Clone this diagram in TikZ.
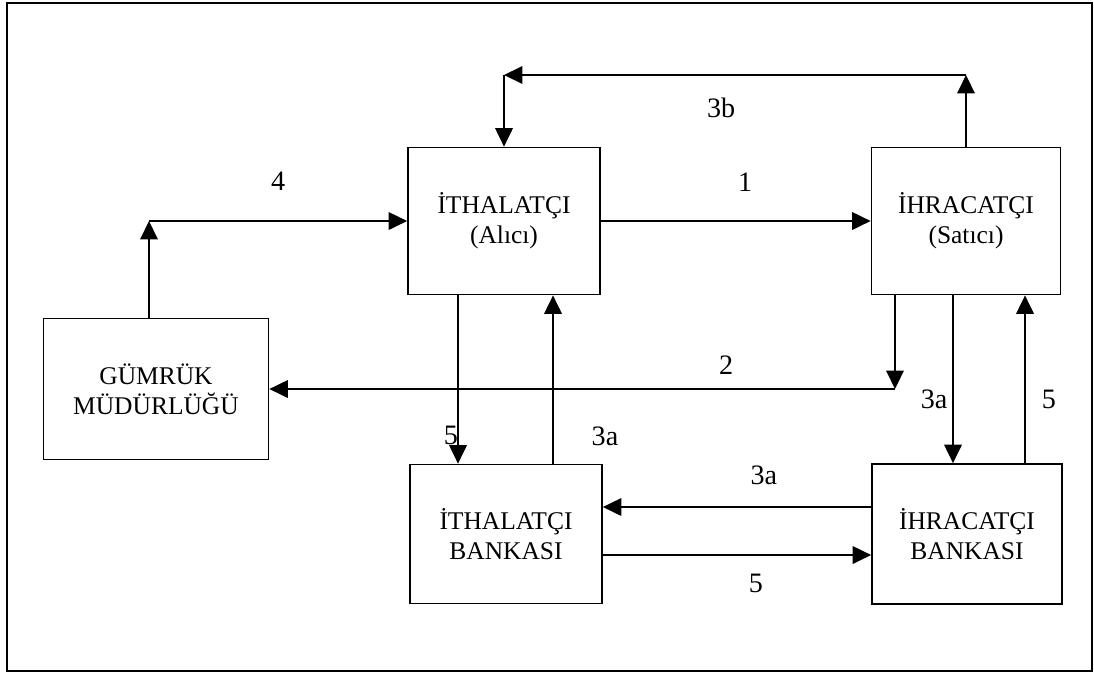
\documentclass[tikz,border=0pt]{standalone}
\usepackage{fontspec}
\setmainfont{Liberation Serif}
\usetikzlibrary{arrows.meta}

\begin{document}
\begin{tikzpicture}[x=0.02cm,y=-0.02cm,every node/.style={font=\fontsize{14.5}{17}\selectfont}]

\tikzstyle{block}=[draw,line width=1pt,rectangle,align=center,minimum width=3.84cm,minimum height=2.94cm]
\tikzstyle{flow}=[line width=0.9pt,-{Triangle[length=10.5pt,width=10pt]}]
\tikzstyle{num}=[font=\fontsize{16}{18}\selectfont]

\useasboundingbox (0,0) rectangle (1094,674);
\draw[line width=1.2pt] (7,3) rectangle (1092,671);

\node (ith) at (504,221) [block] {İTHALATÇI\\(Alıcı)};
\node (ihr) at (966,221) [block, minimum width=3.78cm] {İHRACATÇI\\(Satıcı)};
\node (gum) at (156,389) [block, minimum width=4.5cm, minimum height=2.82cm] {GÜMRÜK\\MÜDÜRLÜĞÜ};
\node (ithb) at (506,534) [block, minimum height=2.78cm] {İTHALATÇI\\BANKASI};
\node (ihrb) at (967,534) [block, minimum width=3.8cm, minimum height=2.8cm] {İHRACATÇI\\BANKASI};

\coordinate (top3b) at (0,75);
\coordinate (c3r) at (ihr.north |- top3b);
\coordinate (c3l) at (ith.north |- top3b);
\coordinate (c4) at (149,221);
\coordinate (c2) at (895,389);
\coordinate (ithd) at (458,0);
\coordinate (ithu) at (553,0);
\coordinate (ihrd) at (953,0);
\coordinate (ihru) at (1025,0);
\coordinate (h3a) at (0,507);
\coordinate (h5) at (0,555);

\draw[flow] (ith.east) -- (ihr.west) node[num,pos=.535,yshift=.78cm] {1};
\draw[flow] (ihr.north) -- (c3r);
\draw[flow] (c3r) -- (c3l) node[num,pos=.53,yshift=-.66cm] {3b};
\draw[flow] (c3l) -- (ith.north);
\draw[flow] (gum.north -| c4) -- (c4);
\draw[flow] (c4) -- (ith.west) node[num,midway,yshift=.8cm] {4};
\draw[flow] (ihr.south -| c2) -- (c2);
\draw[flow] (c2) -- (gum.east) node[num,pos=.27,yshift=.48cm] {2};
\draw[flow] (ith.south -| ithd) -- (ithb.north -| ithd) node[num,pos=.835,xshift=-.14cm] {5};
\draw[flow] (ithb.north -| ithu) -- (ith.south -| ithu) node[num,pos=.16,xshift=1.04cm] {3a};
\draw[flow] (ihr.south -| ihrd) -- (ihrb.north -| ihrd) node[num,pos=.62,xshift=-.38cm] {3a};
\draw[flow] (ihrb.north -| ihru) -- (ihr.south -| ihru) node[num,pos=.38,xshift=.48cm] {5};
\draw[flow] (ihrb.west |- h3a) -- (ithb.east |- h3a) node[num,pos=.4,yshift=.64cm] {3a};
\draw[flow] (ithb.east |- h5) -- (ihrb.west |- h5) node[num,pos=.57,yshift=-.56cm] {5};

\end{tikzpicture}
\end{document}
